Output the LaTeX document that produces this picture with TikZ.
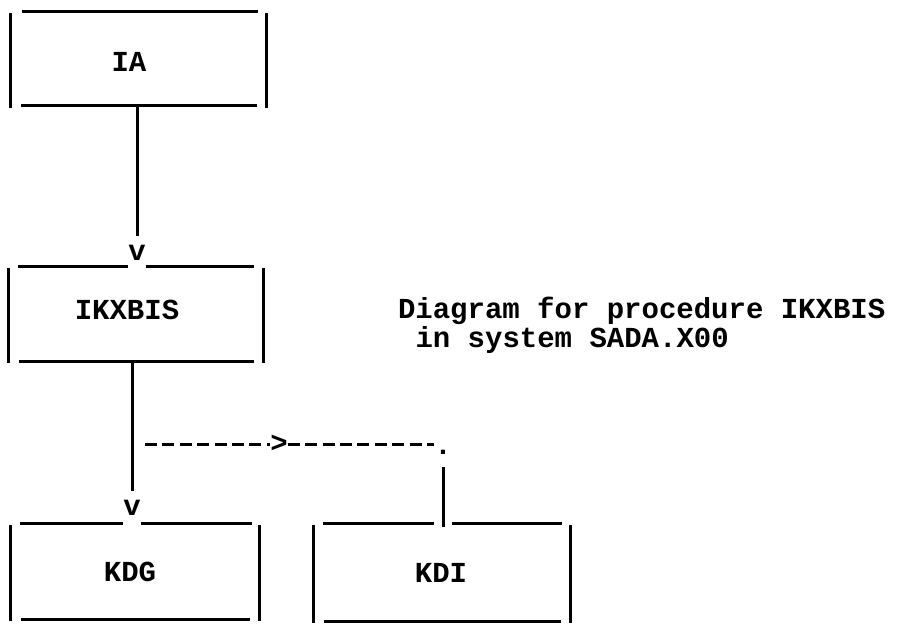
\documentclass[tikz,border=0pt]{standalone}
\usepackage{fontspec}
\newfontfamily\monofnt{Liberation Mono}
\newcommand\tsides[1]{%
  \draw[frame] ([xshift=11pt]#1.south west) -- ([xshift=-9pt]#1.south east);
  \draw[frame] ([yshift=-2pt]#1.north west) -- ([yshift=-2pt]#1.south west);
  \draw[frame] ([yshift=-2pt]#1.north east) -- ([yshift=-2pt]#1.south east);}
\begin{document}
\begin{tikzpicture}[x=1pt,y=-1pt,
  every node/.style={inner sep=0pt,outer sep=0pt},
  lbl/.style={font=\monofnt\bfseries\fontsize{29}{34}\selectfont},
  frame/.style={line width=3pt},
  conn/.style={line width=3pt},
  dconn/.style={line width=3pt,dash pattern=on 12pt off 5.4pt},
  boxarea/.style={draw=none}]
\useasboundingbox (0,0) rectangle (915,630);

% boxes
\node[boxarea,minimum width=256pt,minimum height=94.5pt,
  label={[lbl,xshift=-9pt,yshift=-3.5pt]center:IA}] (IA) at (138,58.25) {};
\node[boxarea,minimum width=255pt,minimum height=95pt,
  label={[lbl,xshift=-8.5pt,yshift=3.5pt]center:IKXBIS}] (IK) at (135.5,313.5) {};
\node[boxarea,minimum width=249pt,minimum height=96pt,
  label={[lbl,xshift=-4.5pt,yshift=-1pt]center:KDG}] (KDG) at (134.5,571) {};
\node[boxarea,minimum width=257pt,minimum height=98pt,
  label={[lbl,xshift=-0.5pt,yshift=-1pt]center:KDI}] (KDI) at (441.5,572) {};

% caption
\node[lbl,anchor=base west] (cap1) at (398,318) {Diagram for procedure IKXBIS};
\node[lbl,anchor=base west] (cap2) at (415.5,347.5) {in system SADA.X00};

% arrow-head characters
\node[lbl] (v1) at (137,252.5) {v};
\node[lbl] (v2) at (132,508) {v};
\node[lbl] (gt) at (279,444) {>};
\node[lbl] (dot) at (443,452) {.};
\coordinate (br) at (v2 |- gt);

% frames
\draw[frame] ([xshift=12pt]IA.north west) -- ([xshift=-8pt]IA.north east);
\tsides{IA}
\draw[frame] ([xshift=10pt]IK.north west) -- (v1.west |- IK.north);
\draw[frame] (v1.east |- IK.north) -- ([xshift=-9pt]IK.north east);
\tsides{IK}
\draw[frame] ([xshift=10pt]KDG.north west) -- (v2.west |- KDG.north);
\draw[frame] (v2.east |- KDG.north) -- ([xshift=-7pt]KDG.north east);
\tsides{KDG}
\draw[frame] ([xshift=10pt]KDI.north west) -- ([xshift=-9pt]dot |- KDI.north);
\draw[frame] ([xshift=9pt]dot |- KDI.north) -- ([xshift=-8pt]KDI.north east);
\tsides{KDI}

% connectors
\draw[conn,shorten >=8.5pt] (v1 |- IA.south) -- (v1.north);
\draw[conn,shorten >=9.5pt] (v2 |- IK.south) -- (v2.north);
\draw[dconn,shorten <=13pt] (br) -- (gt.west);
\draw[dconn] (gt.east) -- (dot.west |- gt);
\draw[conn,shorten <=13pt,shorten >=-4pt] (dot) -- (dot |- KDI.north);
\end{tikzpicture}
\end{document}
